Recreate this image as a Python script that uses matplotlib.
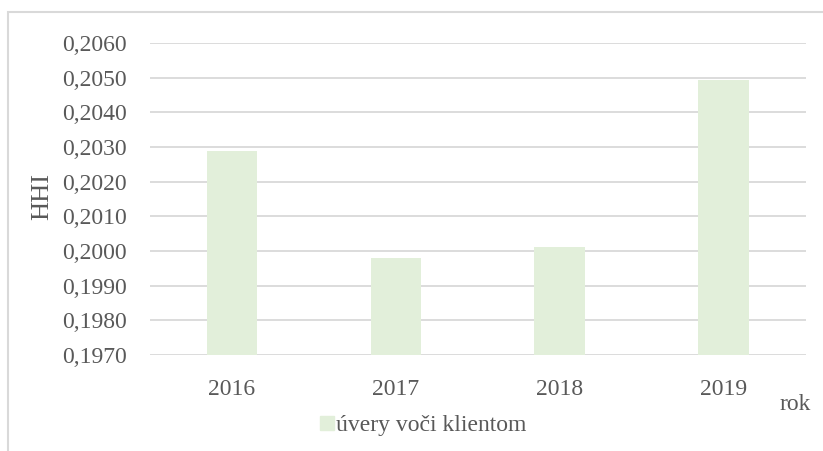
import matplotlib
matplotlib.use("Agg")
import matplotlib.pyplot as plt
from matplotlib.ticker import FuncFormatter
from matplotlib.patches import Rectangle
from matplotlib.lines import Line2D

# data
years = ['2016', '2017', '2018', '2019']
hhi = [0.20287, 0.19981, 0.20012, 0.20493]
series_name = 'úvery voči klientom'

plt.rcParams['font.family'] = ['Liberation Serif', 'DejaVu Serif']
txt = '#595959'
bar_color = '#E2EFDA'
grid_color = '#D9D9D9'

fig = plt.figure(figsize=(8.23, 4.51), dpi=100)
ax = fig.add_axes([0.1823, 0.2129, 0.7967, 0.6918])

x = range(len(years))
ax.bar(x, hhi, width=0.31, color=bar_color, zorder=2)

ax.set_xlim(-0.5, len(years) - 0.5)
ax.set_ylim(0.1970, 0.2060)
ax.set_yticks([0.1970 + i * 0.001 for i in range(10)])
ax.yaxis.set_major_formatter(FuncFormatter(lambda v, p: ('%.4f' % v).replace('.', ',')))
ax.set_xticks(list(x))
ax.set_xticklabels(years)
ax.yaxis.grid(True, color=grid_color, linewidth=1.3, zorder=0)
ax.tick_params(axis='both', length=0, labelsize=17, labelcolor=txt)
ax.tick_params(axis='y', pad=16.5)
ax.tick_params(axis='x', pad=17)
for s in ax.spines.values():
    s.set_visible(False)

fig.text(0.051, 0.565, 'HHI', rotation=90, fontsize=19, color=txt, ha='center', va='center')
fig.text(0.966, 0.102, 'rok', fontsize=17, color=txt, ha='center', va='center')

# legend at the bottom
handle = Line2D([], [], marker='s', linestyle='none', markersize=10,
                markerfacecolor=bar_color, markeredgecolor=bar_color)
fig.legend([handle], [series_name], loc='center', bbox_to_anchor=(0.513, 0.057),
           frameon=False, fontsize=17, labelcolor=txt, handletextpad=0.0,
           handlelength=0.8)

# outer chart border (cropped at right/bottom)
fig.patches.append(Rectangle((8 / 823, -0.1), 1.2, 1 - 12 / 451 + 0.1,
                             transform=fig.transFigure, fill=False,
                             edgecolor=grid_color, linewidth=1.5))

fig.savefig('out.png', dpi=100)
